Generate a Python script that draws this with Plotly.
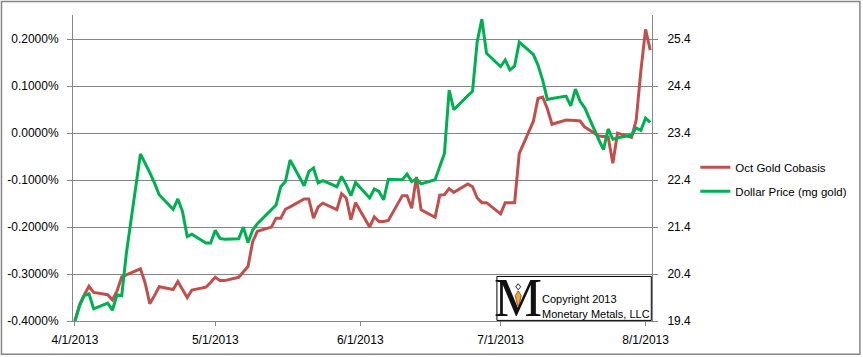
import plotly.graph_objects as go

dates = [
    "2013-04-01", "2013-04-02", "2013-04-03", "2013-04-04", "2013-04-05",
    "2013-04-08", "2013-04-09", "2013-04-10", "2013-04-11", "2013-04-12",
    "2013-04-15", "2013-04-16", "2013-04-17", "2013-04-18", "2013-04-19",
    "2013-04-22", "2013-04-23", "2013-04-24", "2013-04-25", "2013-04-26",
    "2013-04-29", "2013-04-30", "2013-05-01", "2013-05-02", "2013-05-03",
    "2013-05-06", "2013-05-07", "2013-05-08", "2013-05-09", "2013-05-10",
    "2013-05-13", "2013-05-14", "2013-05-15", "2013-05-16", "2013-05-17",
    "2013-05-20", "2013-05-21", "2013-05-22", "2013-05-23", "2013-05-24",
    "2013-05-27", "2013-05-28", "2013-05-29", "2013-05-30", "2013-05-31",
    "2013-06-03", "2013-06-04", "2013-06-05", "2013-06-06", "2013-06-07",
    "2013-06-10", "2013-06-11", "2013-06-12", "2013-06-13", "2013-06-14",
    "2013-06-17", "2013-06-18", "2013-06-19", "2013-06-20", "2013-06-21",
    "2013-06-24", "2013-06-25", "2013-06-26", "2013-06-27", "2013-06-28",
    "2013-07-01", "2013-07-02", "2013-07-03", "2013-07-04", "2013-07-05",
    "2013-07-08", "2013-07-09", "2013-07-10", "2013-07-11", "2013-07-12",
    "2013-07-15", "2013-07-16", "2013-07-17", "2013-07-18", "2013-07-19",
    "2013-07-22", "2013-07-23", "2013-07-24", "2013-07-25", "2013-07-26",
    "2013-07-29", "2013-07-30", "2013-07-31", "2013-08-01", "2013-08-02",
]

# Oct Gold Cobasis, in percent (left axis)
cobasis = [
    -0.400, -0.365, -0.344, -0.326, -0.339,
    -0.344, -0.355, -0.336, -0.306, -0.302,
    -0.289, -0.319, -0.363, -0.346, -0.327,
    -0.333, -0.316, -0.333, -0.350, -0.334,
    -0.328, -0.318, -0.307, -0.314, -0.314,
    -0.307, -0.295, -0.284, -0.231, -0.209,
    -0.200, -0.181, -0.181, -0.162, -0.157,
    -0.140, -0.140, -0.181, -0.157, -0.149,
    -0.163, -0.129, -0.138, -0.184, -0.148,
    -0.200, -0.178, -0.188, -0.188, -0.186,
    -0.133, -0.133, -0.160, -0.093, -0.163,
    -0.179, -0.132, -0.131, -0.118, -0.126,
    -0.108, -0.114, -0.138, -0.148, -0.148,
    -0.172, -0.148, -0.148, -0.148, -0.043,
    0.025, 0.074, 0.077, 0.052, 0.019,
    0.028, 0.028, 0.027, 0.026, 0.013,
    -0.006, -0.007, -0.008, -0.064, 0.000,
    -0.009, 0.028, 0.133, 0.221, 0.177,
]

# Dollar Price (mg gold), right axis
dollar_price = [
    19.40, 19.73, 19.94, 19.98, 19.66,
    19.78, 19.63, 19.96, 19.94, 20.85,
    22.96, 22.77, 22.56, 22.34, 22.09,
    21.78, 22.00, 21.73, 21.20, 21.25,
    21.06, 21.06, 21.33, 21.16, 21.14,
    21.15, 21.40, 21.07, 21.34, 21.47,
    21.78, 21.87, 22.26, 22.37, 22.83,
    22.28, 22.58, 22.66, 22.34, 22.39,
    22.26, 22.48, 22.30, 22.07, 22.35,
    22.02, 22.21, 22.16, 21.98, 22.42,
    22.41, 22.53, 22.37, 22.42, 22.32,
    22.41, 22.69, 22.97, 24.32, 23.90,
    24.20, 24.29, 25.35, 25.83, 25.10,
    24.82, 24.96, 24.75, 24.83, 25.34,
    25.08, 24.85, 24.53, 24.12, 24.14,
    24.19, 23.98, 24.34, 24.08, 23.94,
    23.26, 23.05, 23.49, 23.27, 23.30,
    23.36, 23.51, 23.46, 23.72, 23.63,
]

left_ticks = [-0.4, -0.3, -0.2, -0.1, 0.0, 0.1, 0.2]
left_labels = ["-0.4000%", "-0.3000%", "-0.2000%", "-0.1000%", "0.0000%", "0.1000%", "0.2000%"]
right_ticks = [19.4, 20.4, 21.4, 22.4, 23.4, 24.4, 25.4]
right_labels = ["19.4", "20.4", "21.4", "22.4", "23.4", "24.4", "25.4"]
x_ticks = ["2013-04-01", "2013-05-01", "2013-06-01", "2013-07-01", "2013-08-01"]
x_labels = ["4/1/2013", "5/1/2013", "6/1/2013", "7/1/2013", "8/1/2013"]

RED = "#C0504D"
GREEN = "#00B050"
AXIS = "#868686"
FONT = "Liberation Sans"

fig = go.Figure()
fig.add_trace(go.Scatter(
    x=dates, y=cobasis, name="Oct Gold Cobasis", mode="lines",
    line=dict(color=RED, width=3), legendgroup="a", yaxis="y",
))
fig.add_trace(go.Scatter(
    x=dates, y=dollar_price, name="Dollar Price (mg gold)", mode="lines",
    line=dict(color=GREEN, width=3), legendgroup="b", yaxis="y2",
))

W, H = 863, 357
ml, mr, mt, mb = 73, 211.3, 15, 35.7
pw = W - ml - mr
ph = H - mt - mb

def px_x(x):
    return (x - ml) / pw

def px_y(y):
    return (H - mb - y) / ph

fig.update_layout(
    width=W, height=H,
    margin=dict(l=ml, r=mr, t=mt, b=mb, autoexpand=False),
    paper_bgcolor="white", plot_bgcolor="white",
    font=dict(family=FONT, size=12, color="#000000"),
    showlegend=True,
    legend=dict(
        x=px_x(695), y=px_y(153), xanchor="left", yanchor="top",
        font=dict(family=FONT, size=11.5, color="#000000"),
        bgcolor="rgba(0,0,0,0)", tracegroupgap=5, traceorder="grouped",
    ),
    xaxis=dict(
        type="date", automargin=False,
        range=["2013-03-31 14:00", "2013-08-02 09:00"],
        tickvals=x_ticks, ticktext=x_labels,
        showline=True, linecolor=AXIS, linewidth=1,
        ticks="outside", ticklen=4, tickcolor=AXIS,
        ticklabelstandoff=4,
        showgrid=False, zeroline=False,
        tickfont=dict(family=FONT, size=12, color="#000000"),
    ),
    yaxis=dict(
        range=[-0.4, 0.2517], automargin=False,
        tickvals=left_ticks, ticktext=left_labels,
        showline=True, linecolor=AXIS, linewidth=1,
        ticks="outside", ticklen=5, tickcolor=AXIS,
        ticklabelstandoff=6,
        showgrid=True, gridcolor=AXIS, gridwidth=1,
        zeroline=False,
        tickfont=dict(family=FONT, size=12, color="#000000"),
    ),
    yaxis2=dict(
        range=[19.4, 25.917], overlaying="y", side="right", automargin=False,
        tickvals=right_ticks, ticktext=right_labels,
        showline=True, linecolor=AXIS, linewidth=1,
        ticks="outside", ticklen=5, tickcolor=AXIS,
        ticklabelstandoff=7,
        showgrid=False, zeroline=False,
        tickfont=dict(family=FONT, size=12, color="#000000"),
    ),
)

# outer chart border
fig.add_shape(type="rect", xref="paper", yref="paper",
              x0=px_x(1.5), x1=px_x(859.5), y0=px_y(354.5), y1=px_y(1.5),
              line=dict(color=AXIS, width=1.5), fillcolor="rgba(0,0,0,0)", layer="below")

# copyright box
fig.add_shape(type="rect", xref="paper", yref="paper",
              x0=px_x(496.7), x1=px_x(651), y0=px_y(320.7), y1=px_y(276.7),
              line=dict(color="#000000", width=1), fillcolor="white", layer="above")
fig.add_annotation(xref="paper", yref="paper", x=px_x(518), y=px_y(298.5),
                   text="M", showarrow=False, xanchor="center", yanchor="middle",
                   font=dict(family="Liberation Serif", size=54, color="#111111"))

# small figure inside the logo: diamond head and orange flame-like body
def pth(points):
    s = "M " + " L ".join(f"{px_x(a):.5f},{px_y(b):.5f}" for a, b in points) + " Z"
    return s

fig.add_shape(type="path", xref="paper", yref="paper",
              path=pth([(518, 284), (520.5, 287), (518, 290), (515.5, 287)]),
              line=dict(color="#222222", width=1), fillcolor="white", layer="above")
fig.add_shape(type="path", xref="paper", yref="paper",
              path=pth([(518, 291), (521, 296), (518.6, 306), (517.4, 306), (515, 296)]),
              line=dict(color="#7a4a10", width=0.8), fillcolor="#F0A838", layer="above")

fig.add_annotation(xref="paper", yref="paper", x=px_x(540), y=px_y(299.3),
                   text="Copyright 2013", showarrow=False, xanchor="left", yanchor="middle",
                   font=dict(family=FONT, size=11, color="#000000"))
fig.add_annotation(xref="paper", yref="paper", x=px_x(540), y=px_y(314),
                   text="Monetary Metals, LLC", showarrow=False, xanchor="left", yanchor="middle",
                   font=dict(family=FONT, size=11, color="#000000"))

fig.write_html("out.html")
